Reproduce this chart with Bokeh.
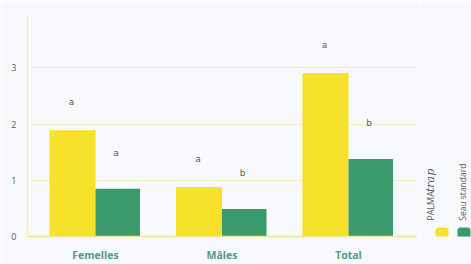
from bokeh.plotting import figure
from bokeh.layouts import row
from bokeh.models import Range1d, FixedTicker, ColumnDataSource
from bokeh.transform import dodge
from bokeh.core.properties import value
from bokeh.embed import file_html
from bokeh.resources import INLINE

categories = ["Femelles", "Mâles", "Total"]
series = ["PALMAtrap", "Seau standard"]
palmatrap = [1.89, 0.88, 2.91]
seau = [0.85, 0.49, 1.38]
letters_palmatrap = ["a", "a", "a"]
letters_seau = ["a", "b", "b"]
y_ticks = [0, 1, 2, 3]

YELLOW = "#f7e12b"
GREEN = "#3b9a6b"
BG = "#f7f9fc"
TXT = "#5a5a5a"

xs = list(range(len(categories)))
src = ColumnDataSource(dict(x=xs, palmatrap=palmatrap, seau=seau,
                            la=letters_palmatrap, lb=letters_seau))
yr = Range1d(0, 3.95)

p = figure(width=420, height=264, x_range=Range1d(-0.5375, 2.5376), y_range=yr,
           output_backend="svg", toolbar_location=None,
           min_border_left=27, min_border_right=4, min_border_top=14, min_border_bottom=26)
p.background_fill_color = BG
p.border_fill_color = BG
p.outline_line_color = None

p.vbar(x=dodge("x", -0.182, range=p.x_range), top="palmatrap", width=0.364, source=src,
       fill_color=YELLOW, line_color=None)
p.vbar(x=dodge("x", 0.176, range=p.x_range), top="seau", width=0.352, source=src,
       fill_color=GREEN, line_color=None)

p.text(x=dodge("x", -0.19, range=p.x_range), y="palmatrap", text="la", source=src,
       y_offset=-28, text_align="center", text_baseline="middle",
       text_font=value("DejaVu Sans"), text_font_size="9px", text_color=TXT)
p.text(x=dodge("x", 0.162, range=p.x_range), y="seau", text="lb", source=src,
       y_offset=-36, text_align="center", text_baseline="middle",
       text_font=value("DejaVu Sans"), text_font_size="9px", text_color=TXT)

p.xaxis.ticker = FixedTicker(ticks=xs)
p.xaxis.major_label_overrides = {i: c for i, c in zip(xs, categories)}
p.xaxis.major_label_text_font = "Open Sans"
p.xaxis.major_label_text_font_style = "bold"
p.xaxis.major_label_text_font_size = "10.5px"
p.xaxis.major_label_text_color = "#58988a"
p.xaxis.major_label_standoff = 11
p.xaxis.major_tick_out = 0
p.xaxis.major_tick_in = 0
p.xaxis.minor_tick_out = 0
p.xaxis.minor_tick_in = 0
p.xaxis.axis_line_color = "#f1e590"
p.xaxis.axis_line_width = 1.5

p.yaxis.ticker = FixedTicker(ticks=y_ticks)
p.yaxis.major_label_text_font = "Open Sans"
p.yaxis.major_label_text_font_size = "9px"
p.yaxis.major_label_text_color = TXT
p.yaxis.major_label_standoff = 11
p.yaxis.major_tick_out = 0
p.yaxis.major_tick_in = 0
p.yaxis.minor_tick_out = 0
p.yaxis.minor_tick_in = 0
p.yaxis.axis_line_color = "#f6edb8"
p.yaxis.axis_line_width = 1.5

p.xgrid.grid_line_color = None
p.ygrid.ticker = FixedTicker(ticks=y_ticks[1:])
p.ygrid.grid_line_color = "#f6efcc"
p.ygrid.grid_line_width = 1

# legend panel (rotated labels above colour swatches)
lg = figure(width=51, height=264, x_range=Range1d(0, 51), y_range=yr,
            output_backend="svg", toolbar_location=None,
            min_border_left=0, min_border_right=0, min_border_top=14, min_border_bottom=26)
lg.axis.visible = False
lg.grid.visible = False
lg.outline_line_color = None
lg.background_fill_color = BG
lg.border_fill_color = BG
legend_src = ColumnDataSource(dict(name=series, color=[YELLOW, GREEN], x=[21.5, 43.5]))
lg.rect(x="x", y=0.035, width=13, height=14, height_units="screen",
        source=legend_src, fill_color="color", line_color=None, border_radius=3)
lg.text(x=[10], y=[0.28], text=["PALMA"], angle=90, angle_units="deg",
        text_align="left", text_baseline="middle", text_font=value("Open Sans"),
        text_font_size="9px", text_color=TXT)
lg.text(x=[10], y=[0.79], text=["trap"], angle=90, angle_units="deg",
        text_align="left", text_baseline="middle", text_font=value("DejaVu Serif"),
        text_font_style="italic", text_font_size="11px", text_color=TXT)
lg.text(x=[42], y=[0.28], text=[series[1]], angle=90, angle_units="deg",
        text_align="left", text_baseline="middle", text_font=value("Open Sans"),
        text_font_size="8.5px", text_color=TXT)

layout = row(p, lg, spacing=0)
open("out.html", "w").write(file_html(layout, INLINE))
